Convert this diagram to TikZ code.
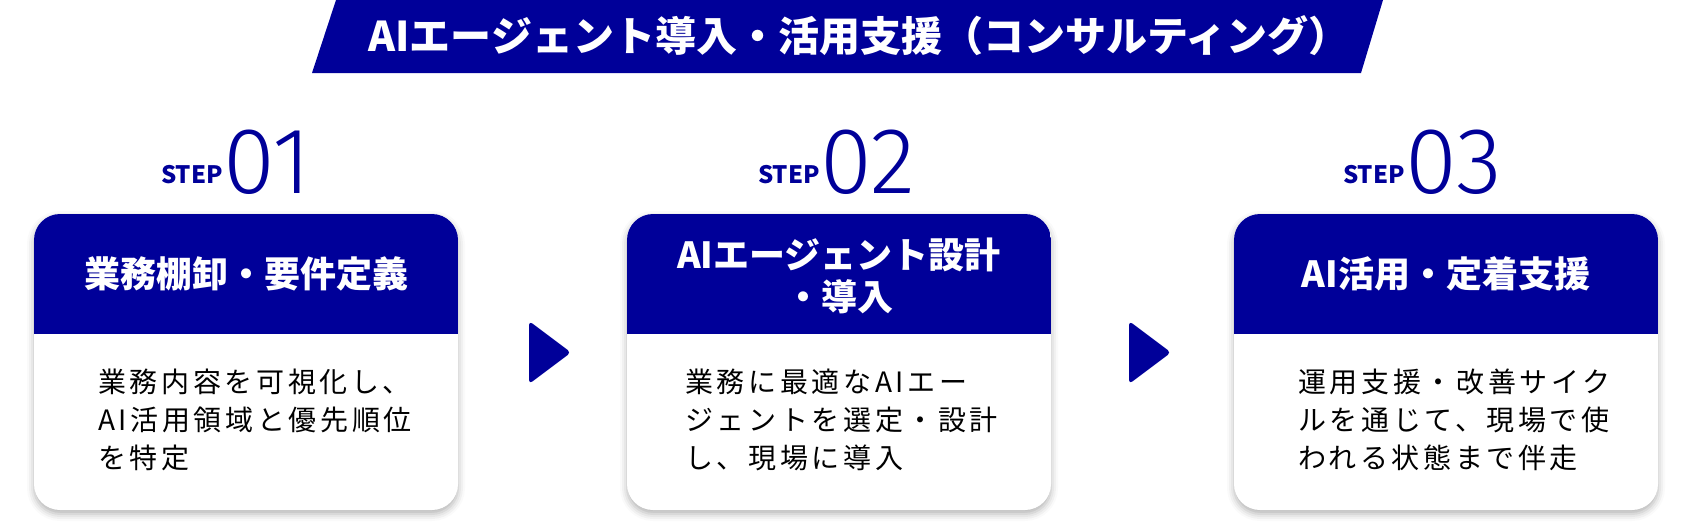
\documentclass[tikz,border=0pt]{standalone}
\usepackage{fontspec}
\usetikzlibrary{positioning,shadows.blur}
\newfontfamily\jpfont{Noto Sans CJK JP}
\newfontfamily\jpbody{Noto Sans CJK JP}[LetterSpace=13]
\newfontfamily\numfont{Fira Sans Light}
\definecolor{stepblue}{RGB}{0,0,153}

\begin{document}
\begin{tikzpicture}[
    x=1pt, y=-1pt,
    card/.style ={
        rectangle,
        rounded corners=26pt,
        fill=white,
        outer sep=0pt,
        minimum width=424pt,
        minimum height=296pt,
        blur shadow={shadow xshift=0pt, shadow yshift=-4pt, shadow blur radius=7pt, shadow opacity=30}
    },
    head/.style ={
        text=white,
        align=center,
        inner sep=0pt,
        font=\jpfont\bfseries\fontsize{36}{41.5}\selectfont
    },
    body/.style ={
        anchor=north west,
        align=left,
        inner sep=0pt,
        font=\jpbody\fontsize{28}{38}\selectfont
    },
    steptag/.style ={
        anchor=base west,
        inner sep=0pt,
        text=stepblue,
        font=\jpfont\bfseries\fontsize{24}{24}\selectfont
    },
    stepnum/.style ={
        anchor=base west,
        inner sep=0pt,
        text=stepblue,
        font=\numfont\fontsize{94}{94}\selectfont
    },
    tip/.style ={
        fill=stepblue,
        rounded corners=4pt
    }
    ]
    \useasboundingbox (0,0) rectangle (1695,522);

    % title bar
    \fill[stepblue] (336,0) -- (1383,0) -- (1361,73) -- (312,73) -- cycle;
    \node[text=white, font=\jpfont\bfseries\fontsize{41}{41}\selectfont] (title) at (859,36) {AIエージェント導入・活用支援（コンサルティング）};

    \node[card] (c1) at (246,362) {};
    \node[card] (c2) [right=169pt of c1] {};
    \node[card] (c3) [right=183pt of c2] {};

    \foreach \c in {c1,c2,c3} {
        \begin{scope}
            \clip[rounded corners=26pt] (\c.north west) rectangle (\c.south east);
            \fill[stepblue] (\c.north west) rectangle ([yshift=-120pt]\c.north east);
        \end{scope}
    }

    \node[head] (h1) at ([yshift=-60pt]c1.north) {業務棚卸・要件定義};
    \node[head] (h2) at ([yshift=-62pt]c2.north) {AIエージェント設計\\・導入};
    \node[head] (h3) at ([yshift=-60pt]c3.north) {AI活用・定着支援};

    \node[body] (b1) at ([xshift=64pt, yshift=-155pt]c1.north west) {業務内容を可視化し、\\AI活用領域と優先順位\\を特定};
    \node[body] (b2) at ([xshift=58pt, yshift=-155pt]c2.north west) {業務に最適なAIエー\\ジェントを選定・設計\\し、現場に導入};
    \node[body] (b3) at ([xshift=64pt, yshift=-155pt]c3.north west) {運用支援・改善サイク\\ルを通じて、現場で使\\われる状態まで伴走};

    \node[steptag] (s1) at (161,183) {STEP};
    \node[stepnum] (n1) at ([yshift=-10pt]s1.base east) {01};
    \node[steptag] (s2) at (758,183) {STEP};
    \node[stepnum] (n2) at ([yshift=-10pt]s2.base east) {02};
    \node[steptag] (s3) at (1343,183) {STEP};
    \node[stepnum] (n3) at ([yshift=-10pt]s3.base east) {03};

    \foreach \ax in {529,1129}
        \fill[tip] (\ax,321) -- (\ax+42,352.5) -- (\ax,384) -- cycle;
\end{tikzpicture}
\end{document}
